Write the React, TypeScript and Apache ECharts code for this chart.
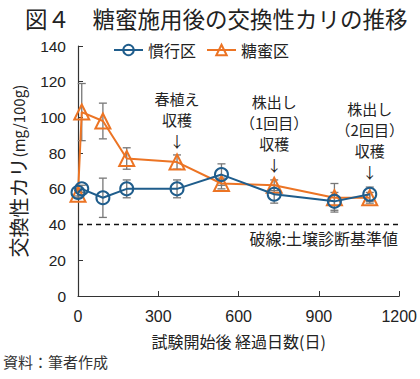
import React, { useEffect, useRef } from "react";
import * as echarts from "echarts";

const days = [0, 14, 93, 182, 370, 536, 733, 958, 1090];
const convValues = [58, 60, 55, 60, 60, 68, 57, 53, 57];
const convErr = [2, 2, 11, 5, 5, 6, 5, 5, 4];
const molValues = [57, 103, 98, 77, 75, 63, 62, 55, 55];
const molErr = [2, 16, 10, 6, 4, 3, 3, 8, 3];

const annotDays = [370, 733, 1090];
const annotValues = [81, 68, 64];
const annotTexts = [
  "春植え\n収穫\n↓",
  "株出し\n（1回目）\n収穫\n↓",
  "株出し\n（2回目）\n収穫\n↓",
];

const standardValue = 40;
const yTicks = { min: 0, max: 140, interval: 20 };
const xTicks = { min: 0, max: 1200, interval: 300 };

const BLUE = "#1f5d8c";
const ORANGE = "#ec7424";
const FONT = "'Liberation Sans', 'Noto Sans CJK JP', sans-serif";
const JFONT = "'Noto Sans CJK JP', sans-serif";

export default function App() {
  const ref = useRef<HTMLDivElement>(null);
  useEffect(() => {
    if (!ref.current) return;
    const chart = echarts.init(ref.current, null, { renderer: "svg" });

    const errData = (vals: number[], errs: number[]) =>
      days.map((d, i) => [d, vals[i] - errs[i], vals[i] + errs[i]]);

    const errRender = (params: any, api: any) => {
      const x = api.value(0);
      const lo = api.coord([x, api.value(1)]);
      const hi = api.coord([x, api.value(2)]);
      const w = 4;
      const style = { stroke: "#777", lineWidth: 1.3 };
      return {
        type: "group",
        children: [
          { type: "line", shape: { x1: lo[0], y1: lo[1], x2: hi[0], y2: hi[1] }, style },
          { type: "line", shape: { x1: lo[0] - w, y1: lo[1], x2: lo[0] + w, y2: lo[1] }, style },
          { type: "line", shape: { x1: hi[0] - w, y1: hi[1], x2: hi[0] + w, y2: hi[1] }, style },
        ],
      };
    };

    chart.setOption({
      animation: false,
      textStyle: { fontFamily: FONT },
      title: {
        text: "図４　糖蜜施用後の交換性カリの推移",
        left: 20,
        top: 2,
        textStyle: { fontFamily: JFONT, fontSize: 22.5, fontWeight: "normal", color: "#222" },
      },
      legend: {
        top: 37,
        left: 108,
        itemWidth: 29,
        itemHeight: 13,
        itemGap: 10,
        textStyle: { fontFamily: JFONT, fontSize: 16, color: "#222" },
        data: ["慣行区", "糖蜜区"],
      },
      grid: { left: 70, right: 20, top: 46, bottom: 83 },
      xAxis: {
        type: "value",
        min: xTicks.min,
        max: xTicks.max,
        interval: xTicks.interval,
        name: "試験開始後 経過日数(日)",
        nameLocation: "middle",
        nameGap: 37,
        nameTextStyle: { fontFamily: JFONT, fontSize: 16, color: "#222" },
        axisLine: { lineStyle: { color: "#333", width: 1.2 } },
        axisTick: { inside: true, length: 5, lineStyle: { color: "#333" } },
        axisLabel: {
          fontFamily: FONT,
          fontSize: 16,
          color: "#222",
          margin: 12,
          formatter: (v: number) => String(v),
        },
        splitLine: { show: false },
      },
      yAxis: {
        type: "value",
        min: yTicks.min,
        max: yTicks.max,
        interval: yTicks.interval,
        name: "{a|交換性カリ}{b|(mg/100g)}",
        nameLocation: "middle",
        nameGap: 50,
        nameRotate: 90,
        nameTextStyle: {
          rich: {
            a: { fontFamily: JFONT, fontSize: 20, color: "#222" },
            b: { fontFamily: JFONT, fontSize: 15, color: "#222" },
          },
        },
        axisLine: { show: true, lineStyle: { color: "#333", width: 1.2 } },
        axisTick: { show: true, inside: true, length: 5, lineStyle: { color: "#333" } },
        axisLabel: { fontFamily: FONT, fontSize: 15.5, color: "#222", margin: 12 },
        splitLine: { show: false },
      },
      graphic: [
        {
          type: "text",
          left: 3,
          top: 354,
          style: { text: "資料：筆者作成", font: `15px ${JFONT}`, fill: "#333" },
        },
        {
          type: "text",
          right: 22,
          top: 230,
          style: { text: "破線:土壌診断基準値", font: `16px ${JFONT}`, fill: "#222" },
        },
      ],
      series: [
        {
          type: "custom",
          name: "convErr",
          renderItem: errRender,
          data: errData(convValues, convErr),
          z: 1,
          silent: true,
        },
        {
          type: "custom",
          name: "molErr",
          renderItem: errRender,
          data: errData(molValues, molErr),
          z: 1,
          silent: true,
        },
        {
          type: "line",
          name: "慣行区",
          data: days.map((d, i) => [d, convValues[i]]),
          symbol: "circle",
          symbolSize: 13,
          lineStyle: { color: BLUE, width: 2 },
          itemStyle: { color: "rgba(255,255,255,0)", borderColor: BLUE, borderWidth: 2 },
          z: 3,
          markLine: {
            silent: true,
            symbol: "none",
            lineStyle: { color: "#111", type: [5, 4], width: 1.3 },
            label: { show: false },
            data: [{ yAxis: standardValue }],
          },
        },
        {
          type: "line",
          name: "糖蜜区",
          data: days.map((d, i) => [d, molValues[i]]),
          symbol: "triangle",
          symbolSize: 15,
          lineStyle: { color: ORANGE, width: 2 },
          itemStyle: { color: "rgba(255,255,255,0)", borderColor: ORANGE, borderWidth: 2 },
          z: 2,
          markPoint: {
            silent: true,
            symbol: "circle",
            symbolSize: 0,
            label: {
              show: true,
              position: "top",
              distance: 0,
              fontFamily: JFONT,
              fontSize: 15,
              lineHeight: 21,
              color: "#222",
              align: "center",
              formatter: (p: any) => p.name,
            },
            data: annotDays.map((d, i) => ({
              coord: [d, annotValues[i]],
              name: annotTexts[i],
            })),
          },
        },
      ],
    });
    return () => chart.dispose();
  }, []);
  return (
    <div
      ref={ref}
      style={{ position: "absolute", left: 0, top: 0, width: 420, height: 379 }}
    />
  );
}
